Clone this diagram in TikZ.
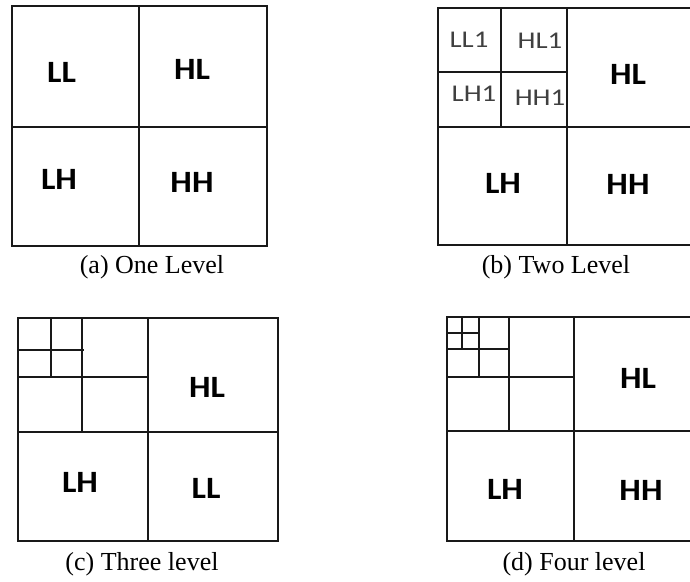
\documentclass[tikz,border=0pt]{standalone}
\usepackage{fontspec}
\setmainfont{Liberation Serif}
\newfontfamily\lblfont[FakeStretch=1.1]{Carlito}
\newfontfamily\sublblfont[FakeStretch=1.2]{Carlito}
\begin{document}
\begin{tikzpicture}[x=1pt,y=-1pt,
  grid/.style={line width=1.9pt,draw=black!90},
  lbl/.style={inner sep=0pt,font=\lblfont\bfseries\fontsize{31}{31}\selectfont,text=black},
  sublbl/.style={inner sep=0pt,font=\sublblfont\fontsize{24}{24}\selectfont,text=black!75},
  captext/.style={inner sep=0pt,font=\fontsize{26}{26}\selectfont}]
\useasboundingbox (0,0) rectangle (690,581);
\begin{scope}
\clip (0,0) rectangle (690,581);
% (a)
\draw[grid] (12,6) rectangle (267,246);
\draw[grid] (139,6) -- (139,246);
\draw[grid] (12,127) -- (267,127);
\node[lbl] (aLL) at (61.5,72) {LL};
\node[lbl] (aHL) at (192,69) {HL};
\node[lbl] (aLH) at (59,179) {LH};
\node[lbl] (aHH) at (192,182) {HH};
\node[captext] (acap) at (152,267) {(a) One Level};
% (b)
\draw[grid] (438,8) rectangle (700,245);
\draw[grid] (567,8) -- (567,245);
\draw[grid] (438,127) -- (700,127);
\draw[grid] (501,8) -- (501,127);
\draw[grid] (438,72) -- (567,72);
\node[sublbl] (bLL1) at (469,40) {LL1};
\node[sublbl] (bHL1) at (540,41) {HL1};
\node[sublbl] (bLH1) at (474,94) {LH1};
\node[sublbl] (bHH1) at (540,97.5) {HH1};
\node[lbl] (bHL) at (628,74) {HL};
\node[lbl] (bLH) at (503,183) {LH};
\node[lbl] (bHH) at (628,184) {HH};
\node[captext] (bcap) at (556,267) {(b) Two Level};
% (c)
\draw[grid] (18,318) rectangle (278,541);
\draw[grid] (148,318) -- (148,541);
\draw[grid] (18,432) -- (278,432);
\draw[grid] (82,318) -- (82,432);
\draw[grid] (18,377) -- (148,377);
\draw[grid] (51,318) -- (51,377);
\draw[grid] (18,350) -- (84,350);
\node[lbl] (cHL) at (207,387) {HL};
\node[lbl] (cLH) at (80,482) {LH};
\node[lbl] (cLL) at (206,488) {LL};
\node[captext] (ccap) at (142,564) {(c) Three level};
% (d)
\draw[grid] (447,317) rectangle (700,541);
\draw[grid] (574,317) -- (574,541);
\draw[grid] (447,431) -- (700,431);
\draw[grid] (509,317) -- (509,431);
\draw[grid] (447,377) -- (574,377);
\draw[grid] (479,317) -- (479,377);
\draw[grid] (447,349) -- (509,349);
\draw[grid] (462,317) -- (462,349);
\draw[grid] (447,333) -- (479,333);
\node[lbl] (dHL) at (638,378) {HL};
\node[lbl] (dLH) at (505,489) {LH};
\node[lbl] (dHH) at (641,490) {HH};
\node[captext] (dcap) at (574,564) {(d) Four level};
\end{scope}
\end{tikzpicture}
\end{document}
